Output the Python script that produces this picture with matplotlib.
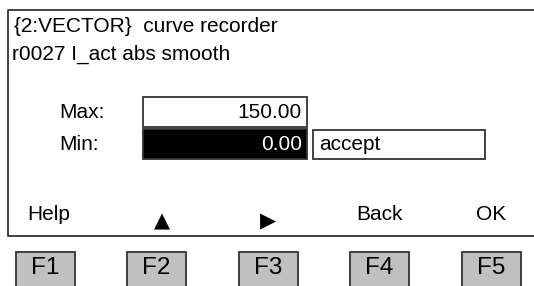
import matplotlib
matplotlib.use('Agg')
import matplotlib.pyplot as plt
from matplotlib.patches import Rectangle

plt.rcParams['font.family'] = ['Liberation Sans', 'DejaVu Sans']

# screen contents
title_line = '{2:VECTOR}  curve recorder'
param_line = 'r0027 I_act abs smooth'
field_names = ['Max:', 'Min:']
field_values = ['150.00', '0.00']
accept_text = 'accept'
softkey_labels = ['Help', '\u25B2', '\u25B6', 'Back', 'OK']
fkey_labels = ['F1', 'F2', 'F3', 'F4', 'F5']

W, H = 534, 286
fig = plt.figure(figsize=(W / 100, H / 100), dpi=100)
ax = fig.add_axes([0, 0, 1, 1])
ax.set_xlim(0, W)
ax.set_ylim(H, 0)
ax.axis('off')

fs = 15
edge = '#333333'

# display frame (open on the right)
ax.plot([W + 5, 8, 8, W + 5], [10, 10, 236, 236], color=edge, lw=1.3)

ax.text(14, 27, title_line, fontsize=fs, va='center', ha='left')
ax.text(12, 54, param_line, fontsize=fs, va='center', ha='left')

# Max / Min fields
box_y = [97, 129]
for i, (name, val) in enumerate(zip(field_names, field_values)):
    y0 = box_y[i]
    ax.text(59, y0 + 15, name, fontsize=fs, va='center', ha='left')
    selected = (i == 1)
    ax.add_patch(Rectangle((142.5, y0), 164.5, 30, facecolor='black' if selected else 'white',
                           edgecolor=edge, lw=1.3))
    ax.text(302, y0 + 15, val, fontsize=fs, va='center', ha='right',
            color='white' if selected else 'black')

ax.add_patch(Rectangle((312.5, 130), 172.5, 29, facecolor='white', edgecolor=edge, lw=1.3))
ax.text(319, 144.5, accept_text, fontsize=fs, va='center', ha='left')

# softkey labels and F-keys
soft_x = [49, 162, 268, 379, 491]
fkey_x = [45.5, 156.5, 268, 379, 491]
for i in range(len(softkey_labels)):
    lab = softkey_labels[i]
    if lab in ('\u25B2', '\u25B6'):
        ax.text(soft_x[i], 221, lab, fontsize=15, va='center', ha='center', family='DejaVu Sans')
    else:
        ax.text(soft_x[i], 214, lab, fontsize=fs, va='center', ha='center')
    ax.add_patch(Rectangle((fkey_x[i] - 29.5, 251.5), 59, 40, facecolor='#c0c0c0',
                           edgecolor=edge, lw=1.3))
    ax.text(fkey_x[i], 268, fkey_labels[i], fontsize=17.5, va='center', ha='center')

fig.savefig('out.png', dpi=100)
